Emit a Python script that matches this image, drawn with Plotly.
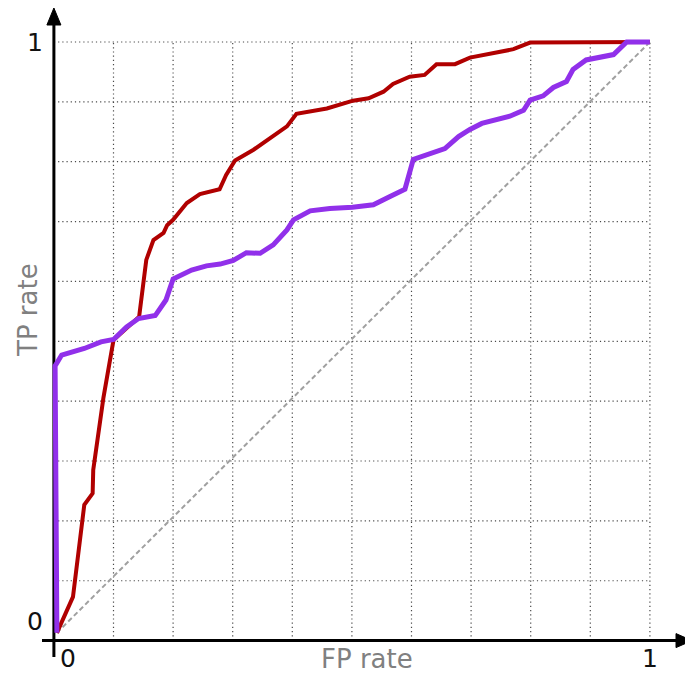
import plotly.graph_objects as go

# ---- data ----
red_fpr = [0.005, 0.032, 0.051, 0.065, 0.066, 0.083, 0.100, 0.143, 0.155, 0.167, 0.184,
           0.190, 0.200, 0.223, 0.245, 0.278, 0.289, 0.304, 0.335, 0.391, 0.407, 0.458,
           0.502, 0.528, 0.553, 0.569, 0.597, 0.622, 0.642, 0.673, 0.698, 0.771, 0.799, 1.0]
red_tpr = [0.013, 0.073, 0.227, 0.246, 0.285, 0.405, 0.502, 0.541, 0.636, 0.669, 0.681,
           0.694, 0.703, 0.731, 0.746, 0.754, 0.778, 0.802, 0.820, 0.859, 0.880, 0.889,
           0.902, 0.906, 0.917, 0.930, 0.942, 0.945, 0.963, 0.963, 0.974, 0.988, 0.999, 1.0]

purple_fpr = [0.005, 0.002, 0.013, 0.051, 0.079, 0.100, 0.122, 0.142, 0.170, 0.188, 0.200,
              0.231, 0.256, 0.279, 0.301, 0.323, 0.346, 0.368, 0.391, 0.402, 0.430, 0.463,
              0.501, 0.536, 0.564, 0.589, 0.603, 0.627, 0.656, 0.679, 0.698, 0.718, 0.743,
              0.765, 0.788, 0.799, 0.821, 0.838, 0.860, 0.871, 0.893, 0.939, 0.961, 1.0]
purple_tpr = [0.013, 0.459, 0.477, 0.488, 0.499, 0.503, 0.524, 0.538, 0.543, 0.569, 0.604,
              0.619, 0.626, 0.629, 0.635, 0.648, 0.647, 0.661, 0.686, 0.703, 0.718, 0.722,
              0.724, 0.728, 0.742, 0.754, 0.804, 0.812, 0.822, 0.842, 0.854, 0.864, 0.871,
              0.876, 0.886, 0.903, 0.910, 0.924, 0.934, 0.954, 0.970, 0.979, 1.0, 1.0]

diag_x = [0.005, 1.0]
diag_y = [0.013, 1.0]

grid_vals = [0.1, 0.2, 0.3, 0.4, 0.5, 0.6, 0.7, 0.8, 0.9, 1.0]
tick_vals = [0, 1]
tick_text = ["0", "1"]
x_title = "FP rate"
y_title = "TP rate"

# ---- layout geometry (page has an 8px body margin) ----
OFF = 8
W, H = 693 - OFF, 674 - OFF
X0, Y0 = 53.9 - OFF, 640.6 - OFF   # pixel position of the origin inside the figure
SX, SY = 596.0, 598.6              # pixels per unit


def dx(px):
    """screen pixel x -> data x"""
    return (px - OFF - X0) / SX


def dy(py):
    """screen pixel y -> data y"""
    return (Y0 - (py - OFF)) / SY


xr = [dx(OFF), dx(OFF + W)]
yr = [dy(OFF + H), dy(OFF)]

fig = go.Figure()

fig.add_trace(go.Scatter(x=diag_x, y=diag_y, mode="lines",
                         line=dict(color="#a0a0a0", width=2, dash="5px,3px"),
                         hoverinfo="skip", showlegend=False))
fig.add_trace(go.Scatter(x=red_fpr, y=red_tpr, mode="lines",
                         line=dict(color="#b00000", width=4),
                         showlegend=False))
fig.add_trace(go.Scatter(x=purple_fpr, y=purple_tpr, mode="lines",
                         line=dict(color="#9130ea", width=5),
                         showlegend=False))

shapes = []
# dotted grid
for g in grid_vals:
    shapes.append(dict(type="line", xref="x", yref="y", x0=g, x1=g, y0=0, y1=1,
                       line=dict(color="#4a4a4a", width=1.2, dash="1.2px,3px"), layer="below"))
    shapes.append(dict(type="line", xref="x", yref="y", x0=0, x1=1, y0=g, y1=g,
                       line=dict(color="#4a4a4a", width=1.2, dash="1.2px,3px"), layer="below"))
# axis lines
shapes.append(dict(type="line", xref="x", yref="y", x0=dx(42), x1=dx(684), y0=0, y1=0,
                   line=dict(color="black", width=3), layer="below"))
shapes.append(dict(type="line", xref="x", yref="y", x0=0, x1=0, y0=dy(657), y1=dy(20),
                   line=dict(color="black", width=3), layer="below"))
# arrow heads
shapes.append(dict(type="path", xref="x", yref="y", xsizemode="pixel", ysizemode="pixel",
                   xanchor=dx(692), yanchor=0,
                   path="M 0,0 L -16,7 L -16,-7 Z",
                   fillcolor="black", line=dict(color="black", width=1), layer="below"))
shapes.append(dict(type="path", xref="x", yref="y", xsizemode="pixel", ysizemode="pixel",
                   xanchor=0, yanchor=dy(8),
                   path="M 0,0 L -7,-17 L 7,-17 Z",
                   fillcolor="black", line=dict(color="black", width=1), layer="below"))

font = dict(family="DejaVu Sans", size=25, color="#111111")
gfont = dict(family="DejaVu Sans", size=26, color="#808080")
ann = []
# y tick labels
ann.append(dict(x=dx(35), y=tick_vals[1], text=tick_text[1], showarrow=False,
                xanchor="center", yanchor="middle", font=font))
ann.append(dict(x=dx(35), y=dy(621), text=tick_text[0], showarrow=False,
                xanchor="center", yanchor="middle", font=font))
# x tick labels
ann.append(dict(x=dx(68), y=dy(658), text=tick_text[0], showarrow=False,
                xanchor="center", yanchor="middle", font=font))
ann.append(dict(x=tick_vals[1], y=dy(658), text=tick_text[1], showarrow=False,
                xanchor="center", yanchor="middle", font=font))
# titles
ann.append(dict(x=dx(367), y=dy(659), text=x_title, showarrow=False,
                xanchor="center", yanchor="middle", font=gfont))
ann.append(dict(x=dx(28), y=dy(310), text=y_title, showarrow=False, textangle=-90,
                xanchor="center", yanchor="middle", font=gfont))

fig.update_layout(
    width=W, height=H,
    margin=dict(l=0, r=0, t=0, b=0),
    paper_bgcolor="white", plot_bgcolor="white",
    xaxis=dict(range=xr, visible=False, fixedrange=True),
    yaxis=dict(range=yr, visible=False, fixedrange=True),
    shapes=shapes, annotations=ann,
    showlegend=False,
)

fig.write_html("out.html")
